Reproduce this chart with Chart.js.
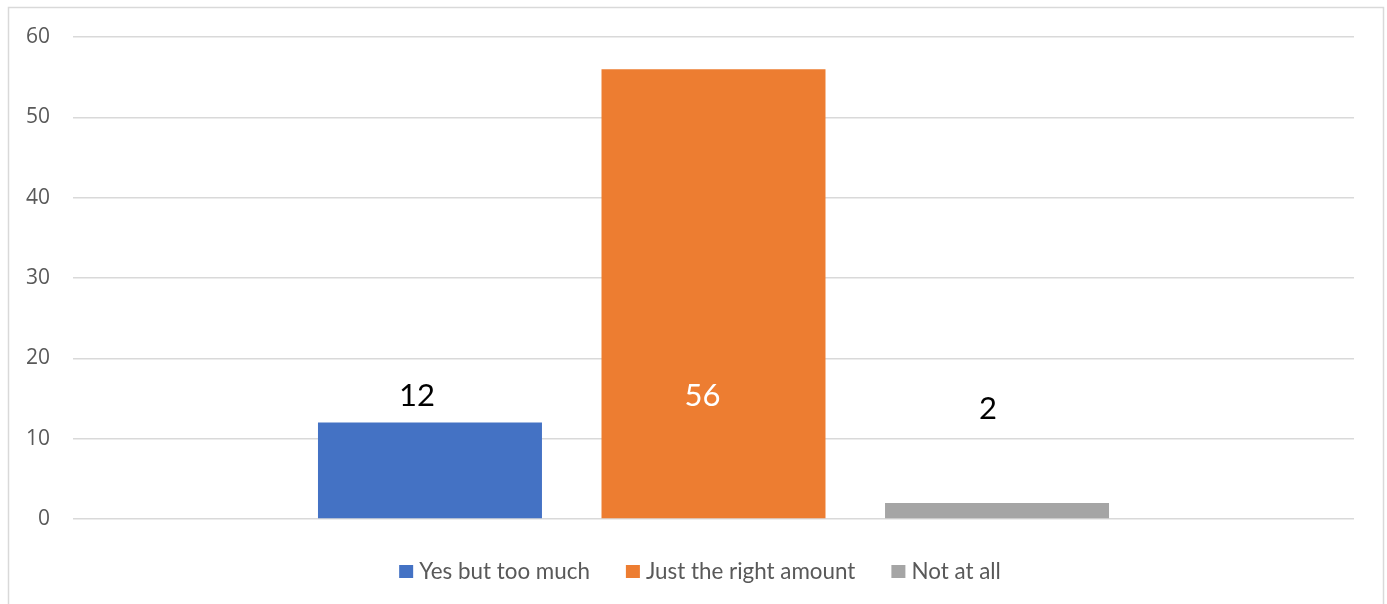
<!DOCTYPE html>
<html>
<head>
<meta charset="utf-8">
<script src="https://cdn.jsdelivr.net/npm/chart.js@4.4.1/dist/chart.umd.min.js"></script>
<style>
  html, body { margin: 0; padding: 0; background: #fff; }
  #wrap { width: 1387px; height: 604px; position: relative; }
</style>
</head>
<body>
<div id="wrap"><canvas id="c" width="1387" height="604"></canvas></div>
<script>
// Survey answers: one category, three response groups
const categories = [''];
const seriesNames = ['Yes but too much', 'Just the right amount', 'Not at all'];
const seriesValues = [12, 56, 2];
const seriesColors = ['#4472C4', '#ED7D31', '#A5A5A5'];
const yTicks = [0, 10, 20, 30, 40, 50, 60];

// value label placement (axis units for height, pixel nudge for x) and colours
const labelStyle = [
  { y: 15.3, dx: -13, color: '#000000' },
  { y: 15.3, dx: -11, color: '#FFFFFF' },
  { y: 13.7, dx: -9,  color: '#000000' }
];

const datasets = seriesNames.map((name, i) => ({
  label: name,
  data: [seriesValues[i]],
  backgroundColor: seriesColors[i],
  borderWidth: 0,
  categoryPercentage: 0.664,
  barPercentage: 0.79
}));

const frame = {
  id: 'frame',
  beforeDraw(chart) {
    const ctx = chart.ctx;
    ctx.save();
    ctx.fillStyle = '#fff';
    ctx.fillRect(0, 0, chart.width, chart.height);
    ctx.strokeStyle = '#D9D9D9';
    ctx.lineWidth = 1.5;
    ctx.strokeRect(8.5, 7.5, 1375, 640);
    ctx.restore();
  }
};

const valueLabels = {
  id: 'valueLabels',
  afterDatasetsDraw(chart) {
    const ctx = chart.ctx;
    const y = chart.scales.y;
    ctx.save();
    ctx.font = '31px Lato, "Liberation Sans", sans-serif';
    ctx.textAlign = 'center';
    ctx.textBaseline = 'middle';
    chart.data.datasets.forEach((ds, i) => {
      const bar = chart.getDatasetMeta(i).data[0];
      const st = labelStyle[i];
      ctx.fillStyle = st.color;
      ctx.fillText(String(ds.data[0]), bar.x + st.dx, y.getPixelForValue(st.y));
    });
    ctx.restore();
  }
};

const legendDraw = {
  id: 'legendDraw',
  afterDraw(chart) {
    const ctx = chart.ctx;
    ctx.save();
    ctx.font = '22.4px Lato, sans-serif';
    ctx.textBaseline = 'middle';
    const box = 14, gap = 6, spacing = 36, cy = 571;
    const items = chart.data.datasets.map(d => ({ text: d.label, color: d.backgroundColor, w: ctx.measureText(d.label).width }));
    const total = items.reduce((s, it) => s + box + gap + it.w, 0) + spacing * (items.length - 1);
    let x = 700 - total / 2;
    items.forEach(it => {
      ctx.fillStyle = it.color;
      ctx.fillRect(x, cy - 6, box, 13);
      ctx.fillStyle = '#595959';
      ctx.fillText(it.text, x + box + gap, cy + 1);
      x += box + gap + it.w + spacing;
    });
    ctx.restore();
  }
};

new Chart(document.getElementById('c'), {
  type: 'bar',
  data: { labels: categories, datasets },
  options: {
    responsive: false,
    animation: false,
    layout: { padding: { left: 9, top: 37, right: 33, bottom: 85 } },
    plugins: {
      legend: { display: false },
      tooltip: { enabled: false }
    },
    scales: {
      x: { display: false },
      y: {
        min: 0,
        max: 60,
        afterBuildTicks: s => { s.ticks = yTicks.map(v => ({ value: v })); },
        afterFit: s => { s.width = 64; },
        border: { display: false },
        grid: { color: '#D9D9D9', lineWidth: 1.5, drawTicks: false },
        ticks: {
          padding: 23,
          color: '#595959',
          font: { family: '"Open Sans", sans-serif', size: 21 }
        }
      }
    }
  },
  plugins: [frame, valueLabels, legendDraw]
});
</script>
</body>
</html>
